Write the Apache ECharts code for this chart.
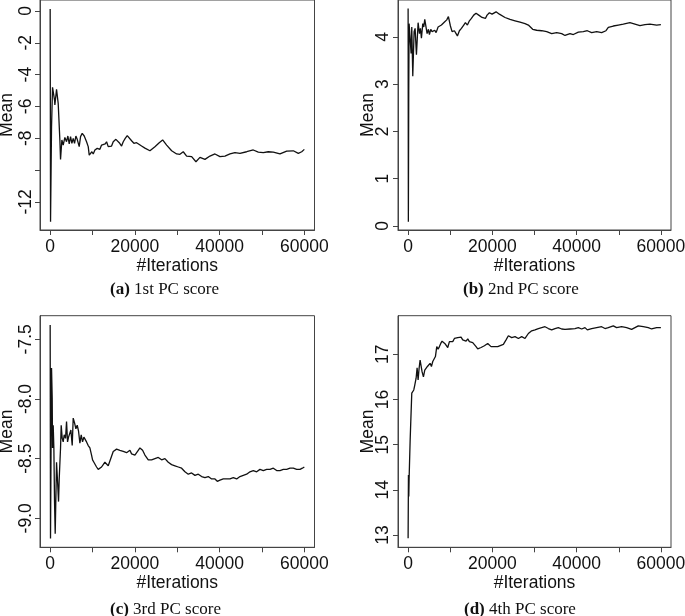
<!DOCTYPE html>
<html>
<head>
<meta charset="utf-8">
<script src="https://cdn.jsdelivr.net/npm/echarts@6.0.0/dist/echarts.min.js"></script>
<style>
  html, body { margin: 0; padding: 0; background: #fff; }
  #chart { width: 685px; height: 616px; }
</style>
</head>
<body>
<div id="chart"></div>
<script>
// running mean of each PC score vs iteration
var pc1 = [[0,0.13],[90,-13.25],[323,-7.27],[559,-4.80],[1031,-5.60],[1110,-5.91],[1504,-4.93],[1897,-5.81],[2291,-8.11],[2448,-9.33],[2764,-8.11],[3078,-8.43],[3472,-7.95],[3866,-8.22],[4181,-7.86],[4496,-8.36],[4811,-7.90],[5126,-8.32],[5440,-8.01],[5756,-8.32],[6070,-7.86],[6385,-8.07],[6858,-8.53],[7173,-7.90],[7566,-7.69],[8039,-7.86],[8590,-8.22],[8983,-8.53],[9219,-9.06],[9535,-8.95],[9850,-8.85],[10164,-8.99],[10558,-8.74],[11109,-8.64],[11424,-8.53],[11739,-8.70],[12133,-8.43],[12526,-8.32],[12998,-8.36],[13314,-8.22],[13707,-8.53],[14101,-8.64],[14495,-8.49],[14888,-8.22],[15518,-8.07],[15833,-7.95],[16305,-8.28],[16857,-8.49],[17250,-8.22],[17722,-8.01],[18195,-7.84],[18667,-7.95],[19220,-8.16],[19770,-8.32],[20401,-8.28],[20873,-8.36],[21582,-8.49],[22368,-8.62],[23549,-8.79],[24730,-8.53],[25746,-8.28],[26549,-8.11],[27494,-8.43],[28675,-8.79],[29856,-8.99],[30635,-9.01],[31415,-8.85],[32217,-9.12],[33398,-9.16],[34414,-9.48],[35359,-9.20],[36540,-9.33],[37721,-9.12],[38902,-8.99],[40083,-9.16],[41264,-9.12],[42445,-8.99],[43626,-8.91],[44807,-8.95],[46389,-8.85],[47949,-8.74],[49130,-8.87],[50311,-8.91],[51492,-8.85],[52673,-8.87],[54254,-8.99],[55837,-8.81],[57397,-8.79],[58578,-8.95],[59381,-8.85],[60000,-8.70]];

var pc2 = [[0,4.60],[60,0.09],[150,2.84],[237,4.28],[712,3.65],[870,4.21],[1107,3.17],[1423,4.11],[1660,4.18],[1977,3.62],[2372,4.30],[2688,4.07],[2925,4.18],[3163,3.97],[3479,4.28],[3716,4.21],[3953,4.37],[4190,4.36],[4507,4.07],[4823,4.16],[5060,4.05],[5376,4.16],[5693,4.11],[6009,4.07],[6325,4.14],[6642,4.09],[7116,4.21],[7432,4.18],[7907,4.25],[8223,4.21],[8697,4.32],[9172,4.36],[9567,4.43],[10041,4.23],[10437,4.11],[10990,4.13],[11386,4.07],[11701,4.02],[12176,4.13],[12650,4.18],[13204,4.25],[13599,4.30],[14074,4.25],[14548,4.34],[15022,4.39],[15576,4.46],[16130,4.50],[16762,4.46],[17158,4.48],[17553,4.41],[18027,4.44],[18343,4.39],[18739,4.46],[19292,4.51],[19925,4.48],[20874,4.53],[21664,4.48],[23008,4.41],[24194,4.37],[25380,4.34],[26566,4.31],[27752,4.28],[28543,4.25],[29571,4.16],[30520,4.14],[31706,4.13],[32892,4.11],[34078,4.07],[35264,4.09],[36450,4.07],[37240,4.03],[38426,4.07],[39217,4.05],[40403,4.10],[41589,4.11],[42538,4.13],[43566,4.09],[44752,4.11],[45938,4.09],[46966,4.13],[47519,4.20],[48705,4.23],[49891,4.25],[51077,4.27],[52658,4.30],[53844,4.27],[55030,4.24],[56216,4.26],[57402,4.27],[58984,4.25],[60000,4.26]];

var pc3 = [[0,-7.38],[80,-9.17],[323,-7.74],[480,-7.99],[559,-8.41],[716,-8.22],[874,-8.41],[1031,-8.86],[1189,-9.13],[1504,-8.53],[1740,-8.69],[1976,-8.86],[2134,-8.67],[2448,-8.41],[2606,-8.22],[2842,-8.33],[3078,-8.36],[3314,-8.30],[3630,-8.33],[3866,-8.19],[4102,-8.36],[4338,-8.32],[4653,-8.33],[4889,-8.26],[5204,-8.39],[5440,-8.16],[5756,-8.20],[6070,-8.25],[6385,-8.22],[6701,-8.27],[7015,-8.37],[7329,-8.30],[7646,-8.36],[7960,-8.32],[8274,-8.33],[8590,-8.36],[8983,-8.39],[9377,-8.41],[9771,-8.47],[10008,-8.51],[10322,-8.53],[10636,-8.54],[10952,-8.57],[11345,-8.59],[11739,-8.60],[12133,-8.57],[12526,-8.55],[12920,-8.53],[13314,-8.54],[13707,-8.56],[14101,-8.55],[14495,-8.48],[14888,-8.44],[15282,-8.43],[15677,-8.42],[16069,-8.43],[16463,-8.43],[16857,-8.43],[17250,-8.44],[17644,-8.44],[18039,-8.45],[18431,-8.44],[18825,-8.43],[19220,-8.46],[19612,-8.47],[20006,-8.47],[20401,-8.46],[20793,-8.43],[21187,-8.41],[21817,-8.43],[22368,-8.47],[23155,-8.51],[23943,-8.51],[24730,-8.50],[25517,-8.49],[26305,-8.51],[27092,-8.50],[27879,-8.53],[28667,-8.55],[29454,-8.56],[30241,-8.57],[31029,-8.58],[31816,-8.61],[32603,-8.63],[33391,-8.62],[34178,-8.64],[34965,-8.63],[35753,-8.65],[36540,-8.66],[37327,-8.65],[38115,-8.67],[38902,-8.67],[39452,-8.69],[40083,-8.68],[40870,-8.67],[41658,-8.67],[42445,-8.67],[43232,-8.66],[44020,-8.67],[44807,-8.65],[45594,-8.64],[46382,-8.63],[47169,-8.61],[47956,-8.60],[48744,-8.61],[49531,-8.59],[50318,-8.60],[51106,-8.59],[51893,-8.59],[52680,-8.58],[53468,-8.60],[54255,-8.60],[55042,-8.59],[55830,-8.59],[56617,-8.58],[57404,-8.58],[58192,-8.59],[58979,-8.59],[59530,-8.58],[60000,-8.57]];

var pc4 = [[0,12.93],[80,14.33],[160,13.85],[237,14.25],[474,15.07],[633,15.51],[870,16.14],[1107,16.10],[1344,16.21],[1581,16.32],[1898,16.47],[2135,16.70],[2372,16.43],[2609,16.69],[2846,16.87],[3084,16.87],[3321,16.61],[3637,16.50],[3953,16.65],[4270,16.61],[4586,16.73],[4902,16.69],[5218,16.80],[5535,16.73],[5851,16.84],[6167,16.87],[6484,16.95],[6800,17.17],[7116,17.11],[7432,17.17],[7749,17.24],[8065,17.29],[8381,17.28],[8697,17.24],[9014,17.28],[9409,17.15],[9805,17.28],[10200,17.32],[10595,17.28],[10991,17.35],[11386,17.39],[11781,17.37],[12176,17.35],[12572,17.38],[12967,17.32],[13362,17.34],[13758,17.29],[14153,17.34],[14548,17.28],[14944,17.29],[15339,17.26],[15734,17.22],[16130,17.17],[16525,17.12],[16920,17.10],[17316,17.15],[17711,17.17],[18106,17.19],[18502,17.22],[18897,17.24],[19292,17.21],[19688,17.17],[20083,17.15],[20478,17.17],[20874,17.19],[21269,17.17],[21664,17.21],[22613,17.22],[23246,17.32],[23799,17.41],[24590,17.37],[25380,17.39],[26171,17.35],[26962,17.39],[27752,17.35],[28543,17.46],[29334,17.52],[30124,17.54],[30915,17.57],[31706,17.59],[32496,17.61],[33287,17.57],[34078,17.54],[34868,17.57],[35659,17.59],[36450,17.56],[37240,17.55],[38426,17.56],[39612,17.57],[40403,17.59],[41194,17.56],[41984,17.59],[42538,17.54],[43566,17.57],[44752,17.59],[45938,17.61],[46728,17.57],[47519,17.59],[48705,17.63],[49496,17.59],[50682,17.61],[51868,17.59],[53054,17.55],[53844,17.59],[54635,17.63],[55821,17.61],[57007,17.59],[57798,17.56],[58984,17.59],[60000,17.59]];

// ticks and labels
var xTicks = [0, 10000, 20000, 30000, 40000, 50000, 60000];
var xLabels = [0, 20000, 40000, 60000];
var yTicks = [
  [-12, -10, -8, -6, -4, -2, 0],
  [0, 1, 2, 3, 4],
  [-9.0, -8.5, -8.0, -7.5],
  [13, 14, 15, 16, 17]
];
var yLabels = [
  [-12, -8, -6, -4, -2, 0],
  [0, 1, 2, 3, 4],
  [-9.0, -8.5, -8.0, -7.5],
  [13, 14, 15, 16, 17]
];
var yRanges = [[-13.77, 0.69], [-0.085, 4.78], [-9.243, -7.302], [12.728, 17.854]];
var capTags = ['(a)', '(b)', '(c)', '(d)'];
var capTexts = ['1st PC score', '2nd PC score', '3rd PC score', '4th PC score'];

var series = [pc1, pc2, pc3, pc4];
var SANS = '"Liberation Sans", Arial, Helvetica, sans-serif';
var SERIF = '"Liberation Serif", "Times New Roman", serif';
var INK = '#111';

var boxes = [
  { left: 40, top: 0, width: 274.5, height: 230 },
  { left: 398, top: 0, width: 273, height: 230 },
  { left: 40, top: 315.7, width: 274.5, height: 231.6 },
  { left: 398, top: 315.7, width: 273, height: 231.6 }
];
var nameGaps = [23.5, 21, 23.5, 21];
var labelMargins = [4.5, 6, 4.5, 5.5];
var capPos = [[110, 281], [463, 281], [110, 601], [464, 601]];

var grid = [], xAxis = [], yAxis = [], seriesOpt = [], title = [];
for (var i = 0; i < 4; i++) {
  grid.push(Object.assign({
    show: true, borderColor: '#444', borderWidth: 1,
    backgroundColor: '#fff', containLabel: false, outerBoundsMode: 'none'
  }, boxes[i]));

  xAxis.push({
    gridIndex: i, type: 'value', min: -2400, max: 62400,
    splitLine: { show: false },
    axisLine: { show: true, onZero: false, lineStyle: { color: '#444' } },
    axisTick: { length: 5, customValues: xTicks, lineStyle: { color: '#444' } },
    axisLabel: {
      customValues: xLabels, margin: 8, color: INK,
      fontFamily: SANS, fontSize: 17.5,
      formatter: function (v) { return String(v); }
    },
    name: '#Iterations', nameLocation: 'middle', nameGap: 27, nameMoveOverlap: false,
    nameTextStyle: { color: INK, fontFamily: SANS, fontSize: 17.5 }
  });

  yAxis.push({
    gridIndex: i, type: 'value', min: yRanges[i][0], max: yRanges[i][1],
    splitLine: { show: false },
    axisLine: { show: true, onZero: false, lineStyle: { color: '#444' } },
    axisTick: { length: 5, customValues: yTicks[i], lineStyle: { color: '#444' } },
    axisLabel: {
      customValues: yLabels[i], rotate: 90, margin: labelMargins[i], color: INK,
      fontFamily: SANS, fontSize: 17.5,
      formatter: i === 2 ? function (v) { return v.toFixed(1); } : function (v) { return String(v); }
    },
    name: 'Mean', nameLocation: 'middle', nameGap: nameGaps[i], nameMoveOverlap: false,
    nameTextStyle: { color: INK, fontFamily: SANS, fontSize: 17.5 }
  });

  seriesOpt.push({
    type: 'line', xAxisIndex: i, yAxisIndex: i,
    data: series[i], showSymbol: false, clip: true,
    lineStyle: { color: INK, width: 1.3 }
  });

  title.push({
    text: '{b|' + capTags[i] + '} {t|' + capTexts[i] + '}',
    left: capPos[i][0], top: capPos[i][1], padding: 0,
    textStyle: {
      fontWeight: 'normal', fontFamily: SERIF, fontSize: 17, color: INK,
      rich: {
        b: { fontFamily: SERIF, fontWeight: 'bold', fontSize: 17, color: INK },
        t: { fontFamily: SERIF, fontWeight: 'normal', fontSize: 17, color: INK }
      }
    }
  });
}

var chart = echarts.init(document.getElementById('chart'));
chart.setOption({
  animation: false,
  backgroundColor: '#fff',
  title: title,
  grid: grid,
  xAxis: xAxis,
  yAxis: yAxis,
  series: seriesOpt
});
</script>
</body>
</html>
